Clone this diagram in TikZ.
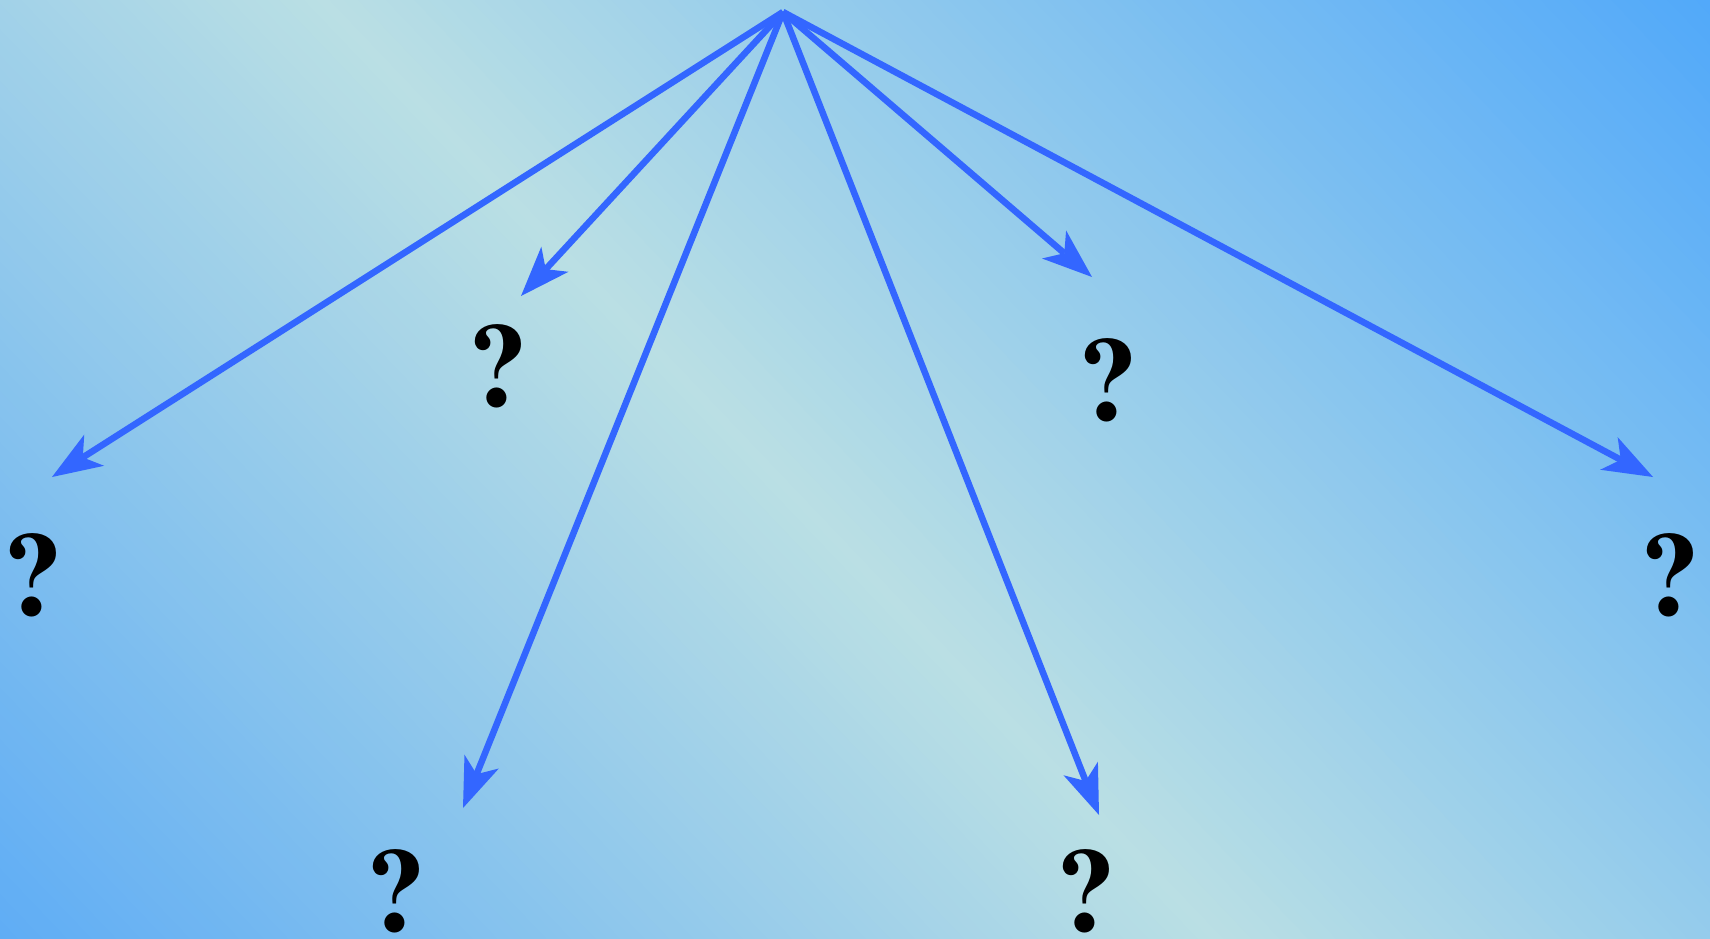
\documentclass[tikz,border=0pt]{standalone}
\usetikzlibrary{arrows.meta}
\definecolor{blc}{HTML}{5EACF5}
\definecolor{bandc}{HTML}{BADFE4}
\definecolor{trc}{HTML}{50A8FA}
\definecolor{arrc}{HTML}{3366FF}
\newcommand{\bigq}{\fontsize{119}{119}\usefont{OT1}{ptm}{b}{n}?}
\tikzset{
  qmark/.style={inner sep=0pt, text=black},
  arr/.style={draw=arrc, line width=6.5pt, -{Stealth[length=50pt, width=37pt, inset=13.5pt, line width=0pt]}}
}
\begin{document}
\begin{tikzpicture}[x=1pt, y=-1pt]
\useasboundingbox (0,0) rectangle (1710,939);
% background gradient
\begin{scope}
\clip (0,0) rectangle (1710,939);
\begin{scope}[shift={(316,0)}, x={(0.7242pt,0.6895pt)}, y={(0.6895pt,-0.7242pt)}]
\foreach \i in {0,...,99}{
  \pgfmathsetmacro\ta{-890+\i*8.9}
  \pgfmathsetmacro\tb{\ta+10}
  \fill[bandc!\i!blc] (\ta,-300) -- (\tb,-300) -- (\tb,1750) -- (\ta,1750) -- cycle;
}
\foreach \i in {0,...,99}{
  \pgfmathsetmacro\ta{\i*10.2}
  \pgfmathsetmacro\tb{\ta+11.2}
  \pgfmathtruncatemacro\p{100-\i}
  \fill[bandc!\p!trc] (\ta,-300) -- (\tb,-300) -- (\tb,1750) -- (\ta,1750) -- cycle;
}
\end{scope}
\end{scope}
% nodes
\coordinate (src) at (783,12);
\node[qmark] (q1) at (33,575) {\bigq};
\node[qmark] (q2) at (498,366) {\bigq};
\node[qmark] (q3) at (396,891) {\bigq};
\node[qmark] (q4) at (1086,891) {\bigq};
\node[qmark] (q5) at (1108,380) {\bigq};
\node[qmark] (q6) at (1670,575) {\bigq};
\coordinate (t1) at (52,477);
\coordinate (t2) at (521,296);
\coordinate (t3) at (463,808);
\coordinate (t4) at (1099,815);
\coordinate (t5) at (1092,277);
\coordinate (t6) at (1653,477);
\foreach \t in {t1,t2,t3,t4,t5,t6}{
  \draw[arr] (src) -- (\t);
}
\end{tikzpicture}
\end{document}
